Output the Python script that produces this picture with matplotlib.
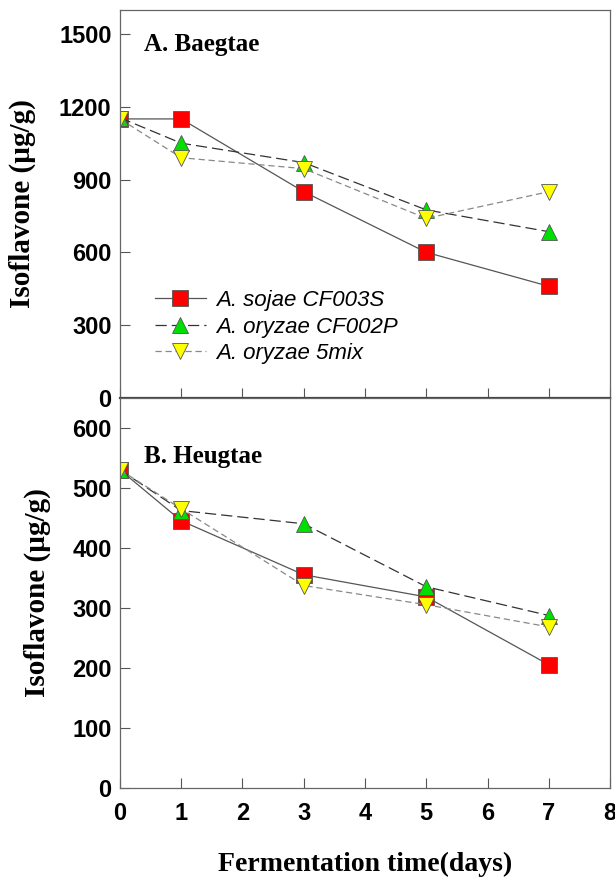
import matplotlib
matplotlib.use("Agg")
import matplotlib.pyplot as plt

days = [0, 1, 3, 5, 7]
series_names = ["A. sojae CF003S", "A. oryzae CF002P", "A. oryzae 5mix"]

# Baegtae isoflavone content (ug/g)
baegtae_sojae = [1150, 1150, 850, 600, 460]
baegtae_cf002p = [1155, 1050, 970, 775, 685]
baegtae_5mix = [1150, 990, 945, 740, 850]

# Heugtae isoflavone content (ug/g)
heugtae_sojae = [530, 445, 355, 318, 205]
heugtae_cf002p = [530, 462, 440, 335, 287]
heugtae_5mix = [530, 465, 337, 305, 268]

styles = [
    dict(marker="s", color="#555555", linestyle="-", markerfacecolor="#ff0000"),
    dict(marker="^", color="#333333", linestyle=(0, (9, 4)), markerfacecolor="#00e000"),
    dict(marker="v", color="#888888", linestyle=(0, (5, 3)), markerfacecolor="#ffff00"),
]

sans = "Liberation Sans"
serif = "Liberation Serif"

fig = plt.figure(figsize=(6.15, 8.9), dpi=100)
ax1 = fig.add_axes([0.195, 0.553, 0.797, 0.436])
ax2 = fig.add_axes([0.195, 0.115, 0.797, 0.438])


def draw_panel(ax, data, ylim, yticks, title, title_y, label_x):
    for vals, st, name in zip(data, styles, series_names):
        ax.plot(days, vals, linewidth=0.9, markersize=11, markeredgecolor="#555555",
                markeredgewidth=0.6, label=name, **st)
    ax.set_xlim(0, 8)
    ax.set_ylim(*ylim)
    ax.set_yticks(yticks)
    ax.set_xticks(range(9))
    ax.tick_params(direction="in", length=7, width=0.8, color="#555555", pad=6)
    for sp in ax.spines.values():
        sp.set_color("#666666")
        sp.set_linewidth(0.9)
    for lab in ax.get_yticklabels():
        lab.set_fontfamily(sans)
        lab.set_fontweight("bold")
        lab.set_fontsize(17)
    ax.set_ylabel("Isoflavone (\u00b5g/g)", fontfamily=serif, fontweight="bold",
                  fontsize=21)
    ax.yaxis.set_label_coords(label_x, 0.5)
    ax.text(0.4, title_y, title, fontfamily=serif, fontweight="bold",
            fontsize=18, va="center")


draw_panel(ax1, [baegtae_sojae, baegtae_cf002p, baegtae_5mix], (0, 1600),
           [0, 300, 600, 900, 1200, 1500], "A. Baegtae", 1456, -0.172)
draw_panel(ax2, [heugtae_sojae, heugtae_cf002p, heugtae_5mix], (0, 650),
           [0, 100, 200, 300, 400, 500, 600], "B. Heugtae", 553, -0.14)

ax1.set_xticklabels([])
ax1.spines["bottom"].set_linewidth(1.6)
ax1.spines["bottom"].set_color("#444444")
for lab in ax2.get_xticklabels():
    lab.set_fontfamily(sans)
    lab.set_fontweight("bold")
    lab.set_fontsize(17)
ax2.tick_params(axis="x", pad=10)
ax2.set_xlabel("Fermentation time(days)", fontfamily=serif, fontweight="bold",
               fontsize=20, labelpad=20)

ax1.legend(loc="lower left", bbox_to_anchor=(0.03, 0.035), frameon=False,
           prop=dict(family=sans, style="italic", size=16), handlelength=2.3,
           handletextpad=0.45, labelspacing=0.25)

fig.savefig("out.png")
